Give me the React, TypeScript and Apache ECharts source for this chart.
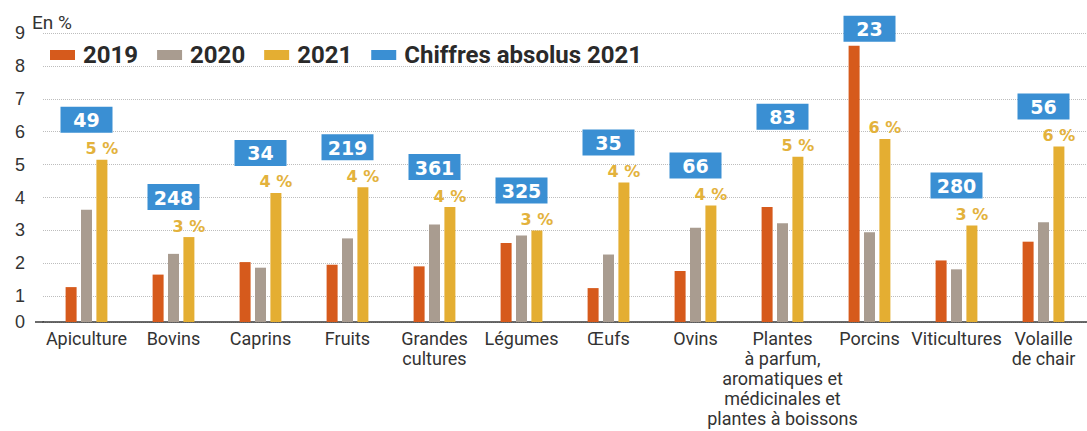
import React, { useEffect, useRef } from "react";
import * as echarts from "echarts";

const categories = [
  "Apiculture",
  "Bovins",
  "Caprins",
  "Fruits",
  "Grandes\ncultures",
  "Légumes",
  "Œufs",
  "Ovins",
  "Plantes\nà parfum,\naromatiques et\nmédicinales et\nplantes à boissons",
  "Porcins",
  "Viticultures",
  "Volaille\nde chair",
];
const values2019 = [1.28, 1.66, 2.04, 1.96, 1.91, 2.62, 1.25, 1.77, 3.71, 8.61, 2.09, 2.66];
const values2020 = [3.63, 2.29, 1.87, 2.76, 3.18, 2.85, 2.27, 3.08, 3.22, 2.95, 1.82, 3.25];
const values2021 = [5.15, 2.8, 4.14, 4.31, 3.71, 3.0, 4.46, 3.76, 5.24, 5.78, 3.15, 5.55];
const pct2021 = ["5 %", "3 %", "4 %", "4 %", "4 %", "3 %", "4 %", "4 %", "5 %", "6 %", "3 %", "6 %"];
const absolus2021 = [49, 248, 34, 219, 361, 325, 35, 66, 83, 23, 280, 56];
const yTicks = ["0", "1", "2", "3", "4", "5", "6", "7", "8", "9"];

const NARROW = "Roboto, 'Liberation Sans', sans-serif";
const C2019 = "#d65a1c";
const C2020 = "#a99c90";
const C2021 = "#e4ae32";
const CBLUE = "#3a8fd3";

export default function App() {
  const ref = useRef<HTMLDivElement>(null);
  useEffect(() => {
    if (!ref.current) return;
    const chart = echarts.init(ref.current, undefined, { renderer: "svg" });
    const absData = categories.map((_, i) => [
      i,
      values2021[i],
      Math.max(values2019[i], values2020[i]),
      absolus2021[i],
    ]);
    chart.setOption({
      animation: false,
      backgroundColor: "#ffffff",
      grid: { left: 43, right: -9, top: 33, bottom: 109 },
      legend: {
        left: 45,
        top: 37,
        itemWidth: 25,
        itemHeight: 10,
        itemGap: 19,
        icon: "rect",
        textStyle: {
          fontFamily: NARROW,
          fontWeight: "bold",
          fontSize: 24,
          lineHeight: 26,
          color: "#2a2a2a",
          padding: [0, 0, 0, 3],
        },
        data: ["2019", "2020", "2021", "Chiffres absolus 2021"],
      },
      xAxis: {
        type: "category",
        data: categories,
        axisTick: { show: false },
        axisLine: { lineStyle: { color: "#3a3a3a", width: 1.5 } },
        axisLabel: {
          interval: 0,
          margin: 6,
          fontFamily: NARROW,
          fontSize: 18,
          lineHeight: 20,
          color: "#333333",
        },
      },
      yAxis: {
        type: "value",
        min: 0.22,
        max: 9,
        splitNumber: 9,
        name: "En %",
        nameLocation: "end",
        nameGap: 11,
        nameTextStyle: {
          fontFamily: NARROW,
          fontSize: 19,
          color: "#333333",
          align: "left",
          verticalAlign: "middle",
          padding: [0, 0, 0, -11],
        },
        axisLine: { show: false },
        axisTick: { show: false },
        axisLabel: {
          margin: 18,
          fontFamily: "'Liberation Sans', sans-serif",
          fontSize: 18,
          color: "#333333",
          formatter: (v: number) => (v < 0.5 ? yTicks[0] : yTicks[Math.round(v)]),
        },
        splitLine: { lineStyle: { color: "#bdbdbd", type: "dotted", width: 1 } },
      },
      graphic: [
        {
          type: "line",
          shape: { x1: 35, y1: 322, x2: 44, y2: 322 },
          style: { stroke: "#3a3a3a", lineWidth: 1.5 },
        },
      ],
      series: [
        {
          name: "2019",
          type: "bar",
          data: values2019,
          barWidth: 11,
          barGap: "40%",
          itemStyle: { color: C2019 },
        },
        {
          name: "2020",
          type: "bar",
          data: values2020,
          barWidth: 11,
          barGap: "40%",
          itemStyle: { color: C2020 },
        },
        {
          name: "2021",
          type: "bar",
          data: values2021,
          barWidth: 11,
          barGap: "40%",
          itemStyle: { color: C2021 },
          label: {
            show: true,
            position: "top",
            distance: 3,
            fontFamily: "'DejaVu Sans', sans-serif",
            fontWeight: "bold",
            fontSize: 16,
            color: "#e3b23c",
            formatter: (p: any) => pct2021[p.dataIndex],
          },
        },
        {
          name: "Chiffres absolus 2021",
          type: "custom",
          itemStyle: { color: CBLUE },
          data: absData,
          encode: { x: 0, y: 1 },
          z: 5,
          renderItem: (params: any, api: any) => {
            const idx = api.value(0);
            const p21 = api.coord([idx, api.value(1)]);
            const po = api.coord([idx, api.value(2)]);
            const bottom = Math.min(p21[1] - 27, po[1] - 4);
            const cx = p21[0];
            return {
              type: "group",
              children: [
                {
                  type: "rect",
                  shape: { x: cx - 26, y: bottom - 26, width: 52, height: 26 },
                  style: { fill: CBLUE },
                },
                {
                  type: "text",
                  x: cx,
                  y: bottom - 12.5,
                  style: {
                    text: String(api.value(3)),
                    fill: "#ffffff",
                    font: "bold 19px 'DejaVu Sans', sans-serif",
                    align: "center",
                    verticalAlign: "middle",
                  },
                },
              ],
            };
          },
        },
      ],
    });
    return () => chart.dispose();
  }, []);
  return (
    <div
      ref={ref}
      style={{ position: "absolute", left: 0, top: 0, width: 1087, height: 431 }}
    />
  );
}
